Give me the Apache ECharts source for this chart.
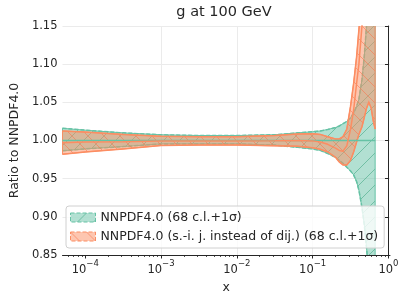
<!DOCTYPE html>
<html><head><meta charset="utf-8">
<script src="https://cdn.jsdelivr.net/npm/echarts@6/dist/echarts.min.js"></script>
<style>html,body{margin:0;padding:0;background:#fff}#c{width:407px;height:299px}</style>
</head><body><div id="c"></div>
<script>
// ---- data ----
const xValues = [5e-5, 1e-4, 3.16e-4, 1e-3, 3.16e-3, 0.01, 0.0316, 0.063, 0.1, 0.126, 0.158, 0.2, 0.224, 0.251, 0.282, 0.316, 0.347, 0.38, 0.407, 0.447, 0.479, 0.513, 0.55, 0.589, 0.631, 0.667];
const greenCentral = [1,1,1,1,1,1,1,1,1,1,1,1,1,1,1,1,1,1,1,1,1,1,1,1,1,1];
const greenUpper = [1.016, 1.0135, 1.010, 1.0075, 1.0065, 1.0065, 1.0075, 1.010, 1.0115, 1.0125, 1.0145, 1.017, 1.019, 1.022, 1.025, 1.03, 1.036, 1.045, 1.054, 1.08, 1.11, 1.15, 1.19, 1.24, 1.3, 1.35];
const greenLower = [0.9865, 0.989, 0.992, 0.9955, 0.9955, 0.9955, 0.994, 0.991, 0.989, 0.987, 0.983, 0.978, 0.974, 0.970, 0.965, 0.960, 0.955, 0.946, 0.935, 0.912, 0.89, 0.86, 0.825, 0.79, 0.76, 0.74];
const orangeCentral = [0.997, 0.998, 0.9985, 0.9995, 0.9995, 0.9995, 0.9998, 1.0, 0.9995, 0.998, 0.995, 0.99, 0.987, 0.986, 0.993, 1.015, 1.04, 1.075, 1.1, 1.15, 1.2, 1.25, 1.29, 1.33, 1.37, 1.4];
const orangeUpper = [1.0125, 1.011, 1.008, 1.0055, 1.005, 1.005, 1.0065, 1.0085, 1.009, 1.008, 1.005, 1.002, 1.002, 1.005, 1.015, 1.045, 1.075, 1.11, 1.145, 1.19, 1.24, 1.29, 1.34, 1.39, 1.44, 1.48];
const orangeLower = [0.982, 0.985, 0.989, 0.9935, 0.994, 0.994, 0.993, 0.9925, 0.9905, 0.9885, 0.985, 0.978, 0.972, 0.968, 0.968, 0.974, 0.985, 0.998, 1.008, 1.018, 1.03, 1.042, 1.05, 1.043, 1.025, 1.015];
const seriesNames = ['NNPDF4.0 (68 c.l.+1σ)', 'NNPDF4.0 (s.-i. j. instead of dij.) (68 c.l.+1σ)'];
const xTickExponents = [-4, -3, -2, -1, 0];
const yTicks = [0.85, 0.90, 0.95, 1.00, 1.05, 1.10, 1.15];
const titleText = 'g at 100 GeV';

const GREEN = '#66c2a5', ORANGE = '#fc8d62', FONT = 'DejaVu Sans', TXT = '#262626';

function makePattern(bg, line, dir) {
  const s = 16, c = document.createElement('canvas');
  c.width = s; c.height = s;
  const g = c.getContext('2d');
  g.fillStyle = bg; g.fillRect(0, 0, s, s);
  g.strokeStyle = line; g.lineWidth = 0.8;
  g.beginPath();
  for (let k = -1; k <= 1; k++) {
    if (dir === '/') { g.moveTo(k * s, s); g.lineTo(k * s + s, 0); }
    else { g.moveTo(k * s, 0); g.lineTo(k * s + s, s); }
  }
  g.stroke();
  return { image: c, repeat: 'repeat' };
}
const greenPat = makePattern('rgba(102,194,165,0.5)', 'rgba(70,170,135,0.75)', '/');
const orangePat = makePattern('rgba(252,141,98,0.5)', 'rgba(250,120,80,0.75)', '\\');

const lx = xValues.map(v => Math.log10(v));

function band(name, lo, up, pat, color, dash, z) {
  return {
    type: 'custom', name, clip: true, z,
    data: lx.map((x, i) => [x, lo[i], up[i]]),
    encode: { x: 0, y: [1, 2] },
    silent: true,
    renderItem(params, api) {
      if (params.dataIndex !== 0) return null;
      const upPts = [], loPts = [];
      for (let i = 0; i < lx.length; i++) {
        upPts.push(api.coord([lx[i], up[i]]));
        loPts.push(api.coord([lx[i], lo[i]]));
      }
      return { type: 'group', children: [
        { type: 'polygon', shape: { points: upPts.concat(loPts.slice().reverse()) },
          style: { fill: pat, stroke: color, lineWidth: 1 } },
        { type: 'polyline', shape: { points: upPts }, style: { fill: null, stroke: color, lineWidth: 1.5, lineDash: dash } },
        { type: 'polyline', shape: { points: loPts }, style: { fill: null, stroke: color, lineWidth: 1.5, lineDash: dash } }
      ]};
    }
  };
}

const minorTicks = [];
for (let n = -5; n <= -1; n++) for (let k = 2; k <= 9; k++) {
  const v = Math.log10(k) + n;
  if (v > -4.3 && v < 0.02) minorTicks.push(v);
}

const chart = echarts.init(document.getElementById('c'), null, { renderer: 'canvas' });
chart.setOption({
  animation: false,
  backgroundColor: '#fff',
  title: { text: titleText, left: 224, textAlign: 'center', top: 5, padding: 0,
    textStyle: { fontFamily: FONT, fontSize: 14.5, fontWeight: 'normal', color: TXT } },
  grid: { left: 59, right: 17, top: 26, bottom: 44, containLabel: false },
  legend: {
    data: [
      { name: seriesNames[0], icon: 'rect', itemStyle: { color: greenPat, borderColor: GREEN, borderWidth: 1, borderType: 'dashed' } },
      { name: seriesNames[1], icon: 'rect', itemStyle: { color: orangePat, borderColor: ORANGE, borderWidth: 1, borderType: 'dashed' } }
    ],
    orient: 'vertical', left: 66, top: 206, padding: [4, 6, 4, 4], itemGap: 4,
    itemWidth: 25, itemHeight: 9, itemTextGap: 10, selectedMode: false,
    backgroundColor: 'rgba(255,255,255,0.8)', borderColor: '#d0d0d0', borderWidth: 1, borderRadius: 3,
    textStyle: { fontFamily: FONT, fontSize: 12.5, color: TXT, lineHeight: 15 }
  },
  xAxis: [{
    type: 'value', min: -4.3, max: 0.02, minInterval: 1, maxInterval: 1,
    name: 'x', nameLocation: 'middle', nameGap: 24,
    nameTextStyle: { fontFamily: FONT, fontSize: 12.5, color: TXT },
    axisLine: { lineStyle: { color: TXT, width: 1 } },
    axisTick: { customValues: xTickExponents, length: 3.5, lineStyle: { color: TXT } },
    axisLabel: { customValues: xTickExponents, margin: 4, color: TXT,
      formatter: v => '{b|10}{s|' + (v < 0 ? '\u2212' : '') + Math.abs(Math.round(v)) + '}',
      rich: { b: { fontFamily: FONT, fontSize: 11.5, color: TXT, lineHeight: 17, verticalAlign: 'bottom' },
              s: { fontFamily: FONT, fontSize: 8.5, color: TXT, lineHeight: 10, verticalAlign: 'top' } } },
    splitLine: { show: true, showMinLine: false, showMaxLine: false, lineStyle: { color: '#ebebeb', width: 1 } }
  }, {
    type: 'value', min: -4.3, max: 0.02, position: 'bottom', offset: 0,
    axisLine: { show: false }, axisLabel: { show: false }, splitLine: { show: false },
    axisTick: { customValues: minorTicks, length: 2, lineStyle: { color: TXT, width: 0.8 } }
  }],
  yAxis: {
    type: 'value', min: 0.85, max: 1.15, interval: 0.05,
    name: 'Ratio to NNPDF4.0', nameLocation: 'middle', nameGap: 41,
    nameTextStyle: { fontFamily: FONT, fontSize: 12.5, color: TXT },
    axisLine: { show: true, lineStyle: { color: TXT, width: 1 } },
    axisTick: { show: true, length: 3.5, lineStyle: { color: TXT } },
    axisLabel: { fontFamily: FONT, fontSize: 11.5, color: TXT, margin: 5, formatter: v => v.toFixed(2) },
    splitLine: { show: true, lineStyle: { color: '#ebebeb', width: 1 } }
  },
  series: [
    band(seriesNames[0], greenLower, greenUpper, greenPat, GREEN, [4, 2], 2),
    band(seriesNames[1], orangeLower, orangeUpper, orangePat, ORANGE, null, 3),
    { type: 'line', name: 'green central', data: lx.map((x, i) => [x, greenCentral[i]]), showSymbol: false, z: 4,
      lineStyle: { color: GREEN, width: 1.5 }, itemStyle: { color: GREEN }, silent: true },
    { type: 'line', name: 'orange central', data: lx.map((x, i) => [x, orangeCentral[i]]), showSymbol: false, z: 5,
      lineStyle: { color: ORANGE, width: 1.5 }, itemStyle: { color: ORANGE }, silent: true }
  ]
});
</script></body></html>
